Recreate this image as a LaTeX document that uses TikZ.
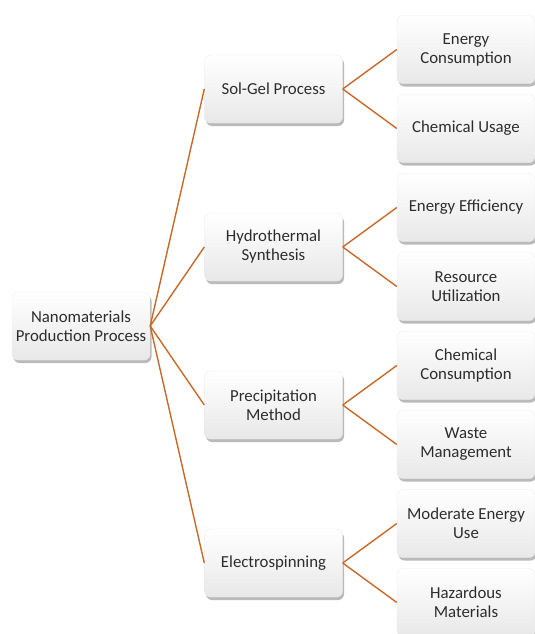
\documentclass[tikz,border=0pt]{standalone}
\usepackage{fontspec}
\setmainfont{Carlito}
\usetikzlibrary{shadows}
\definecolor{linkorange}{RGB}{200,105,40}
\definecolor{boxtext}{RGB}{45,45,45}

\begin{document}
\begin{tikzpicture}[grow'=right, level distance=192.5pt,
	box/.style={rectangle, rounded corners=6pt, minimum width=138pt, minimum height=68pt,
		align=center, inner sep=2pt, text=boxtext, font=\fontsize{16.8}{19}\selectfont,
		top color=white, bottom color=gray!18, draw=gray!15, line width=0.4pt,
		drop shadow={shadow xshift=1.5pt, shadow yshift=-3pt, fill=black!45, opacity=.6}},
	edge from parent/.style={draw=linkorange, line width=1.4pt},
	parent anchor=east, child anchor=west]

	\useasboundingbox (0,0) rectangle (535pt,-634pt);

	\node[box] (npp) at (81pt,-326pt) {Nanomaterials\\Production Process} [sibling distance=158pt]
		child {node[box] (sgp) {Sol-Gel Process} [sibling distance=79pt]
			child {node[box] (ecn) {Energy\\Consumption}}
			child {node[box] (chu) {Chemical Usage}}}
		child {node[box] (hts) {Hydrothermal\\Synthesis} [sibling distance=79pt]
			child {node[box] (eef) {Energy Efficiency}}
			child {node[box] (rut) {Resource\\Utilization}}}
		child {node[box] (prm) {Precipitation\\Method} [sibling distance=79pt]
			child {node[box] (ccn) {Chemical\\Consumption}}
			child {node[box] (wmg) {Waste\\Management}}}
		child {node[box] (els) {Electrospinning} [sibling distance=79pt]
			child {node[box] (meu) {Moderate Energy\\Use}}
			child {node[box] (hzm) {Hazardous\\Materials}}};
\end{tikzpicture}
\end{document}
